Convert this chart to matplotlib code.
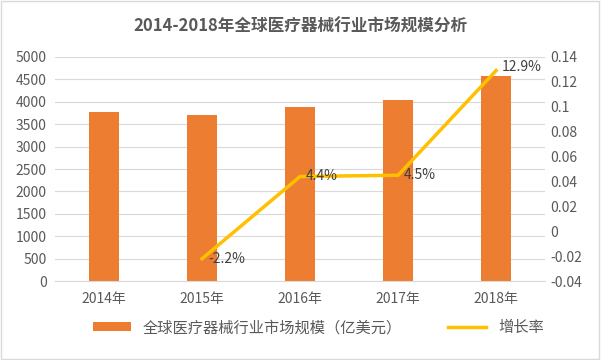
import numpy as np
import matplotlib.pyplot as plt
from matplotlib.patches import Rectangle

plt.rcParams['font.family'] = ['Noto Sans CJK SC', 'DejaVu Sans']

# 数据
years = ['2014年', '2015年', '2016年', '2017年', '2018年']
market_size = [3780, 3700, 3880, 4030, 4580]
growth_years = [1, 2, 3, 4]
growth = [-0.022, 0.044, 0.045, 0.129]
growth_labels = ['-2.2%', '4.4%', '4.5%', '12.9%']

fig = plt.figure(figsize=(6.01, 3.6), dpi=100)
ax = fig.add_axes([0.0915, 0.219, 0.8155, 0.623])
ax2 = ax.twinx()

x = np.arange(len(years))
ax.bar(x, market_size, width=0.31, color='#ED7D31', zorder=2,
       label='全球医疗器械行业市场规模（亿美元）')
ax.set_ylim(0, 5000)
ax.set_yticks(np.arange(0, 5001, 500))
ax.set_xlim(-0.5, 4.5)
ax.set_xticks(x)
ax.set_xticklabels(years)
ax.grid(axis='y', color='#D9D9D9', linewidth=0.8, zorder=0)
ax.set_axisbelow(True)

ax2.plot(growth_years, growth, color='#FFC000', linewidth=2.5, zorder=3,
         label='增长率')
ax2.set_ylim(-0.04, 0.14)
ax2.set_yticks(np.arange(-0.04, 0.141, 0.02))
ax2.set_yticklabels([f'{v:g}' for v in np.round(np.arange(-0.04, 0.141, 0.02), 2)])

for gx, gy, lab in zip(growth_years, growth, growth_labels):
    if lab == '12.9%':
        ax2.text(gx + 0.06, gy + 0.003, lab, fontsize=10, color='#404040', va='center', ha='left')
    else:
        ax2.text(gx + 0.06, gy, lab, fontsize=10, color='#404040', va='center', ha='left')

for a in (ax, ax2):
    for s in a.spines.values():
        s.set_visible(False)
    a.tick_params(length=0, labelsize=10, colors='#595959')
ax.spines['bottom'].set_visible(True)
ax.spines['bottom'].set_color('#D9D9D9')
ax.tick_params(axis='x', pad=8)
ax.tick_params(axis='y', pad=6)

fig.suptitle('2014-2018年全球医疗器械行业市场规模分析', y=0.95, fontsize=12,
             fontweight='bold', color='#595959')

h1, l1 = ax.get_legend_handles_labels()
h2, l2 = ax2.get_legend_handles_labels()
fig.legend(h1 + h2, l1 + l2, loc='center', bbox_to_anchor=(0.53, 0.09), ncol=2,
           frameon=False, fontsize=11, labelcolor='#595959', handlelength=2.5,
           handleheight=0.5, columnspacing=3)

fig.add_artist(Rectangle((0.002, 0.003), 0.995, 0.994, transform=fig.transFigure,
                         fill=False, edgecolor='#D9D9D9', linewidth=1))

fig.savefig('out.png', dpi=100)
